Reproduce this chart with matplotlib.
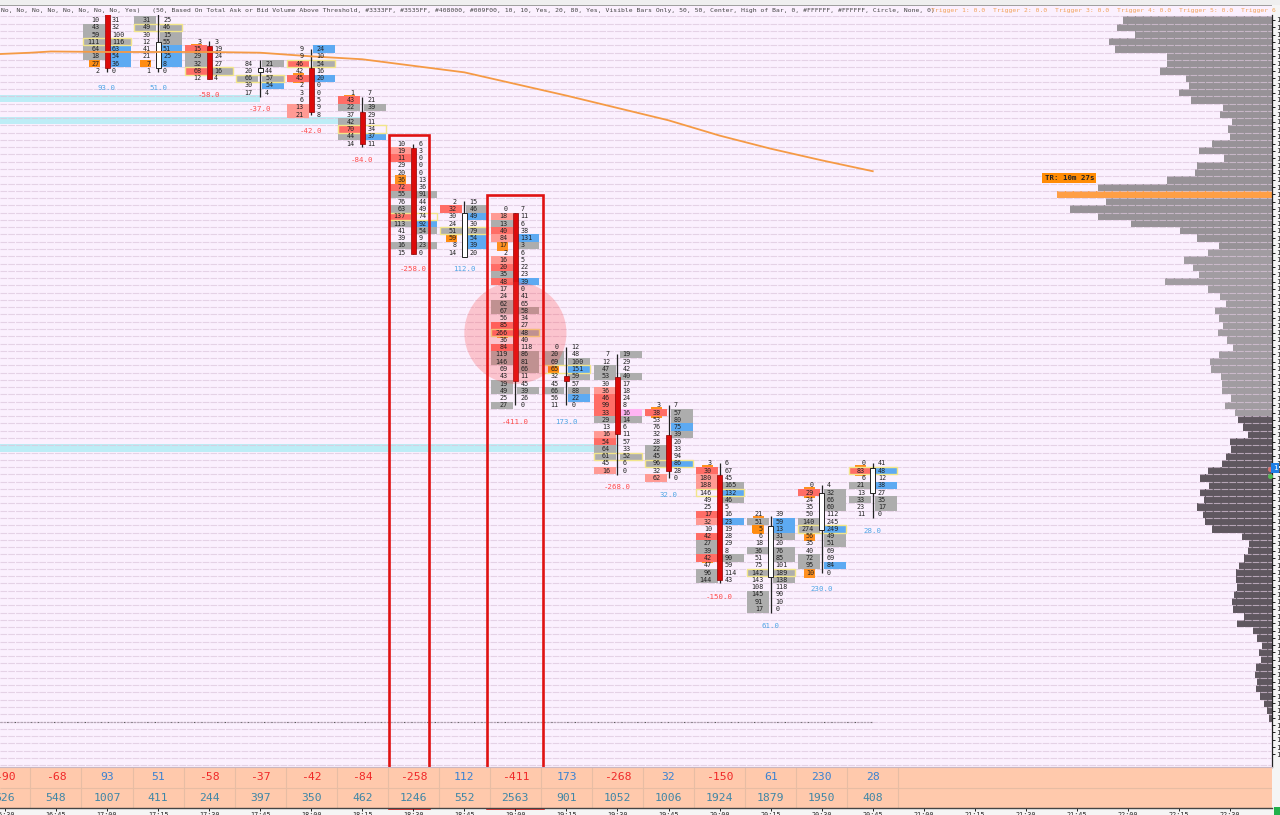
import matplotlib
matplotlib.use("Agg")
import matplotlib.pyplot as plt
from matplotlib.patches import Ellipse, Rectangle

MONO = "DejaVu Sans Mono"
W, H = 1280, 815

# ---------- data ----------
tick_labels = ["16:30","16:45","17:00","17:15","17:30","17:45","18:00","18:15","18:30","18:45",
               "19:00","19:15","19:30","19:45","20:00","20:15","20:30","20:45","21:00","21:15",
               "21:30","21:45","22:00","22:15","22:30"]
table_delta = [-90,-68,93,51,-58,-37,-42,-84,-258,112,-411,173,-268,32,-150,61,230,28]
table_volume = [626,548,1007,411,244,397,350,462,1246,552,2563,901,1052,1006,1924,1879,1950,408]

bar_slots = [2,3,4,5,6,7,8,9,10,11,12,13,14,15,16,17]
bar_first_row = [0,0,3,6,4,10,17,25,26,45,46,53,61,68,64,61]
bar_delta = [93.0,51.0,-58.0,-37.0,-42.0,-84.0,-258.0,112.0,-411.0,173.0,-268.0,32.0,-150.0,61.0,230.0,28.0]

bar_bids = [
 [10,43,59,111,64,18,27,2],
 [31,49,30,12,41,21,7,1],
 [3,15,29,32,68,12],
 [84,20,66,30,17],
 [9,9,46,42,45,2,3,6,13,21],
 [1,43,22,37,42,70,44,14],
 [10,19,11,29,20,36,72,55,76,63,137,113,41,39,16,15],
 [2,32,30,24,51,59,8,14],
 [0,18,13,40,84,17,2,16,20,35,48,17,24,62,67,56,85,266,36,84,119,146,69,43,19,49,25,27],
 [0,20,69,65,32,45,66,56,11],
 [7,12,47,53,30,36,46,99,33,29,13,16,54,64,61,45,16],
 [3,38,53,76,32,28,22,45,96,32,62],
 [3,30,180,188,146,49,25,17,32,10,42,27,39,42,47,96,144],
 [21,51,5,6,18,36,51,75,142,143,108,145,91,17],
 [0,29,24,35,50,140,274,56,35,40,72,95,10],
 [0,83,6,21,13,33,23,11],
]
bar_asks = [
 [31,32,100,116,63,54,36,0],
 [25,46,15,55,51,25,8,0],
 [3,19,24,27,16,4],
 [21,44,57,54,4],
 [24,10,54,16,20,0,0,5,9,8],
 [7,21,39,29,11,34,37,11],
 [6,3,0,0,0,13,36,91,44,49,74,92,54,9,23,0],
 [15,46,49,30,79,54,39,20],
 [7,11,6,38,131,3,6,5,22,23,39,0,41,65,58,34,27,48,40,118,86,81,66,11,45,39,26,0],
 [12,48,100,151,59,57,88,22,0],
 [19,29,42,40,17,18,24,8,16,14,6,11,57,33,52,6,0],
 [7,57,80,75,39,20,33,94,86,28,0],
 [6,67,45,165,132,46,5,16,23,19,28,29,8,90,59,114,43],
 [39,59,13,31,20,76,85,101,189,138,118,90,10,0],
 [4,32,66,60,112,245,249,49,51,69,69,84,0],
 [41,48,12,38,27,35,17,0],
]
bid_kinds = [".gggggo.","gg....o.",".rggr.","..g..","..r.r...ss",".rg.grg.",
             ".sr...rg.grg..g.",".r..go..",".sgrs..srgr..gg.rr.rgg..gg.g",".ggo..g..",
             "..gg.srrrg.srgg.s",".r....ggg.s",".rss...rs.rggr.gg",".go..g..g..ggg",
             ".r...gg...gg.",".r.g.g.."]
ask_kinds = ["...gbbb.",".gggbbb.","....g.","g.gb.","b.g.b.....","..g...b.",
             ".......g...bg.g.",".gb.gbb.","....bg....b...g..g..ggg..g..","..gbg.gb.",
             "g..g....pg....g..",".ggbg...b..","...gbg..b....g...",".bbg.gg.gg....",
             ".ggg..bgg..b.",".b.b.gg."]
yellow_rows = [[3],[1],[7],[8],[6],[15],[27],[29],[43],[48],[60],[61],[65],[76],[70],[62]]
stub_rows = [[],[],[4],[],[8],[11],[22],[],[31,43],[48],[],[54],[62,74],[69,70],[65,71,75,76],[62]]

candle_open = [-1,6.6,3.6,7.1,6.6,12.6,17.6,32.6,26.5,49.0,49.1,57.1,62.6,76.6,70.2,65.0]
candle_close = [6.6,3.0,8.1,6.6,12.6,17.0,32.2,26.5,49.7,49.7,57.0,62.0,77.0,69.6,65.0,61.6]
candle_high = [-1,-1,2.9,5.5,4.0,10.6,17.0,24.9,26.5,45.0,46.0,53.0,61.0,68.2,64.0,61.0]
candle_low = [7.2,7.2,8.1,10.6,13.1,17.5,32.2,32.6,53.0,53.0,62.6,63.0,77.4,81.6,76.0,68.5]
candle_down = [1,0,1,0,1,1,1,0,1,1,1,1,1,0,0,0]

ma_slots = [-0.1,0.5,0.9,2,3,4,5,6,7,8,9,10,11,12,13,14,15,16,17]
ma_rows = [4.68,4.5,4.33,4.4,4.4,4.4,4.5,5.0,5.4,6.3,7.2,8.8,10.4,12.1,13.8,15.9,17.7,19.3,20.8]

profile_first_row = 0
profile_volume = [149,155,137,163,157,105,105,112,86,83,93,81,49,52,40,44,42,60,73,48,75,77,105,174,215,166,202,174,141,92,75,53,
                  64,88,79,73,107,64,52,46,57,53,49,54,45,39,53,62,61,51,50,50,41,47,37,
                  34,29,24,42,41,46,50,64,72,63,72,68,75,69,67,60,30,23,24,28,33,36,36,35,38,40,39,28,35,19,15,10,13,11,16,17,15,16,12,8,5,3]
poc_row = 24
dark_from_row = 55

bands_top = [10.3,13.3,58.3]
bands_bottom = [11.3,14.3,59.4]
bands_end = [5,7,12]
highlight_slot_left = [7.52,9.44]
highlight_slot_right = [8.31,10.54]
highlight_row = [15.85,24.05]

# ---------- colours ----------
BG = "#FBF0FE"
CELL = {"g":"#ADADAD","r":"#FF6D66","s":"#FF9A94","o":"#FF8C10","b":"#5DAAF2","p":"#FFB4F2"}
TXT = "#222222"
RED = "#F02828"; BLUE = "#3A82D2"; TEAL = "#3F86A6"

# ---------- layout ----------
fig = plt.figure(figsize=(W/100, H/100), dpi=100, facecolor="#F5F5F5")
XL, XR, YT, YB = 0, 1272, 15, 767
ax = fig.add_axes([XL/W, 1-YB/H, (XR-XL)/W, (YB-YT)/H], facecolor=BG)
tb = fig.add_axes([XL/W, 1-808/H, (XR-XL)/W, (808-YB)/H], facecolor="#FFC9AC")
SLOT = 51.05; ROW = 7.27
x0 = -4.9/SLOT; x1 = x0 + 1272/SLOT
ax.set_xlim(x0, x1); tb.set_xlim(x0, x1)
ax.set_ylim((767-20)/ROW, (15-20)/ROW)
tb.set_ylim(2, 0)
PX = 1/SLOT

# header
fig.add_artist(Rectangle((0, 1-5/H), 1, 5/H, transform=fig.transFigure, color="#EFEFEF", lw=0))
fig.add_artist(Rectangle((0, 1-15/H), 1272/W, 10/H, transform=fig.transFigure, color=BG, lw=0))
fig.add_artist(Rectangle((0, 1-6/H), 1272/W, 1.2/H, transform=fig.transFigure, color="#A0A0A0", lw=0))
header = ("No, No, No, No, No, No, No, No, Yes)   (50, Based On Total Ask or Bid Volume Above Threshold, "
          "#3333FF, #3535FF, #408000, #009F00, 10, 10, Yes, 20, 80, Yes, Visible Bars Only, 50, 50, Center, "
          "High of Bar, 0, #FFFFFF, #FFFFFF, Circle, None, 0)")
fig.text(1/W, 1-10.5/H, header, family=MONO, fontsize=4.55, color="#444444", va="center", ha="left")
trig = "  ".join(f"Trigger {i}: 0.0" for i in range(1, 6)) + "  Trigger 6"
fig.text(931/W, 1-10.5/H, trig, family=MONO, fontsize=4.55, color="#F2A35A", va="center", ha="left")

# grid
nrows = 103
ax.hlines([r+0.5 for r in range(-1, nrows)], x0, x1, colors="#DCC6DC", lw=0.8,
          linestyles=(0, (6, 1)), zorder=3, alpha=0.7)

# bands
for t, b, e in zip(bands_top, bands_bottom, bands_end):
    ax.barh((t+b)/2, e-x0, left=x0, height=b-t, color="#BDEDF6", lw=0, zorder=1)

# dashed level
ax.hlines(96.6, x0, 17, colors="#555555", lw=0.8, linestyles=(0, (2, 1)), zorder=2)

# profile
for i, v in enumerate(profile_volume):
    r = profile_first_row + i
    c = "#FF9F45" if r == poc_row else ("#5F575F" if r >= dark_from_row else ("#979297" if r < 32 else "#A19CA1"))
    ax.barh(r, v*PX, left=x1-v*PX, height=1.0, color=c, lw=0, zorder=2)

# MA
ax.plot(ma_slots, ma_rows, color="#F59A45", lw=1.3, zorder=6)

# footprint
CW = 22*PX; GAP = 2*PX
for k, s in enumerate(bar_slots):
    fr = bar_first_row[k]
    for j, (bv, av) in enumerate(zip(bar_bids[k], bar_asks[k])):
        r = fr + j
        bk = bid_kinds[k][j]; ak = ask_kinds[k][j]
        if r in stub_rows[k]:
            ax.barh(r, 11*PX, left=s-GAP-CW+6*PX, height=1.45, color="#FF9020", lw=0, zorder=4)
        if bk != ".":
            w = 11*PX if bk == "o" else CW
            ax.barh(r, w, left=s-GAP-CW+(CW-w)/2, height=1.0, color=CELL[bk], lw=0, zorder=4.2)
        if ak != ".":
            ax.barh(r, CW, left=s+GAP, height=1.0, color=CELL[ak], lw=0, zorder=4.2)
        if r in yellow_rows[k]:
            ax.add_patch(Rectangle((s-GAP-CW, r-0.5), 2*CW+2*GAP, 1.0, fill=False, ec="#F2E58A", lw=1.0, zorder=4.4))
        ax.text(s-7.5*PX, r, str(bv), family=MONO, fontsize=4.9, color=TXT, ha="right", va="center", zorder=8, clip_on=True)
        ax.text(s+5*PX, r, str(av), family=MONO, fontsize=4.9, color=TXT, ha="left", va="center", zorder=8, clip_on=True)
    ax.vlines(s, candle_high[k], candle_low[k], colors="#222222", lw=0.9, zorder=5)
    top = min(candle_open[k], candle_close[k]); bot = max(candle_open[k], candle_close[k])
    if candle_down[k]:
        ax.bar(s, bot-top, bottom=top, width=5*PX, color="#DD0A0A", edgecolor="#8A0000", lw=0.5, zorder=5.5)
    else:
        ax.bar(s, bot-top, bottom=top, width=5*PX, color="#FFFFFF", edgecolor="#222222", lw=0.7, zorder=5.5)
    d = bar_delta[k]
    ax.text(s, fr+len(bar_bids[k])-1+2.3, f"{d:.1f}", family=MONO, fontsize=5.3,
            color="#FF4A4A" if d < 0 else "#4FA6E6", ha="center", va="center", zorder=8)

# circle on the largest level
ax.add_patch(Ellipse((10, 43.05), 2.0, 14.0, color="#FF3838", alpha=0.24, lw=0, zorder=6.5))

# TR tag
ax.text(20.85, 21.7, "TR: 10m 27s", family=MONO, fontsize=5.3, weight="bold", color="#222222",
        ha="center", va="center", zorder=9,
        bbox=dict(boxstyle="square,pad=0.3", fc="#FF8C05", ec="none"))

# right axis
ax.yaxis.tick_right()
ax.set_yticks(list(range(0, 102)))
ax.set_yticklabels(["1"]*102, family=MONO, fontsize=5.4, color="#222222")
ax.tick_params(axis="y", length=2, width=0.7, pad=1, color="#222222")
ax.set_xticks([])
for name, sp in ax.spines.items():
    sp.set_visible(name == "right")
    sp.set_linewidth(0.9); sp.set_color("#222222")

# price markers
ax.plot([x1-2.2*PX], [61.7], marker="o", ms=2.6, color="#D9706A", zorder=9, clip_on=False)
ax.plot([x1-2.2*PX], [62.7], marker="o", ms=2.6, color="#55BB55", zorder=9, clip_on=False)
ax.text(1.0005, 61.6, "1", transform=ax.get_yaxis_transform(), family=MONO, fontsize=5.4, color="white",
        va="center", ha="left", zorder=9, clip_on=False,
        bbox=dict(boxstyle="square,pad=0.25", fc="#1E7FE6", ec="none"))

# highlight frames
for l, r_, rr in zip(highlight_slot_left, highlight_slot_right, highlight_row):
    bottom = ax.get_ylim()[0] + 41/ROW
    ax.add_patch(Rectangle((l, rr), r_-l, bottom-rr, fill=False, ec="#E01212", lw=1.9, zorder=12, clip_on=False))

# table
for i, (d, v) in enumerate(zip(table_delta, table_volume)):
    tb.text(i, 0.5, str(d), family=MONO, fontsize=8.2, color=RED if d < 0 else BLUE, ha="center", va="center", clip_on=True)
    tb.text(i, 1.5, str(v), family=MONO, fontsize=8.2, color=TEAL, ha="center", va="center", clip_on=True)
tb.vlines([i+0.5 for i in range(len(table_delta))], 0, 2, colors="#E7BDA4", lw=0.8)
tb.hlines(1, x0, x1, colors="#E7BDA4", lw=0.8)
tb.set_yticks([])
tb.set_xticks(list(range(len(tick_labels))))
tb.set_xticklabels(tick_labels, family=MONO, fontsize=4.9, color="#222222")
tb.tick_params(axis="x", length=2, width=0.7, pad=0.6, color="#222222")
for name, sp in tb.spines.items():
    sp.set_visible(name in ("bottom", "top"))
tb.spines["top"].set_color("#C9B6C0"); tb.spines["top"].set_linewidth(0.8)
tb.spines["bottom"].set_color("#444444"); tb.spines["bottom"].set_linewidth(1.0)

# bottom-right status mark
fig.add_artist(Rectangle((1274/W, 0), 6/W, 8/H, transform=fig.transFigure, color="#22B14C", lw=0))

fig.savefig("out.png", dpi=100, facecolor=fig.get_facecolor())
